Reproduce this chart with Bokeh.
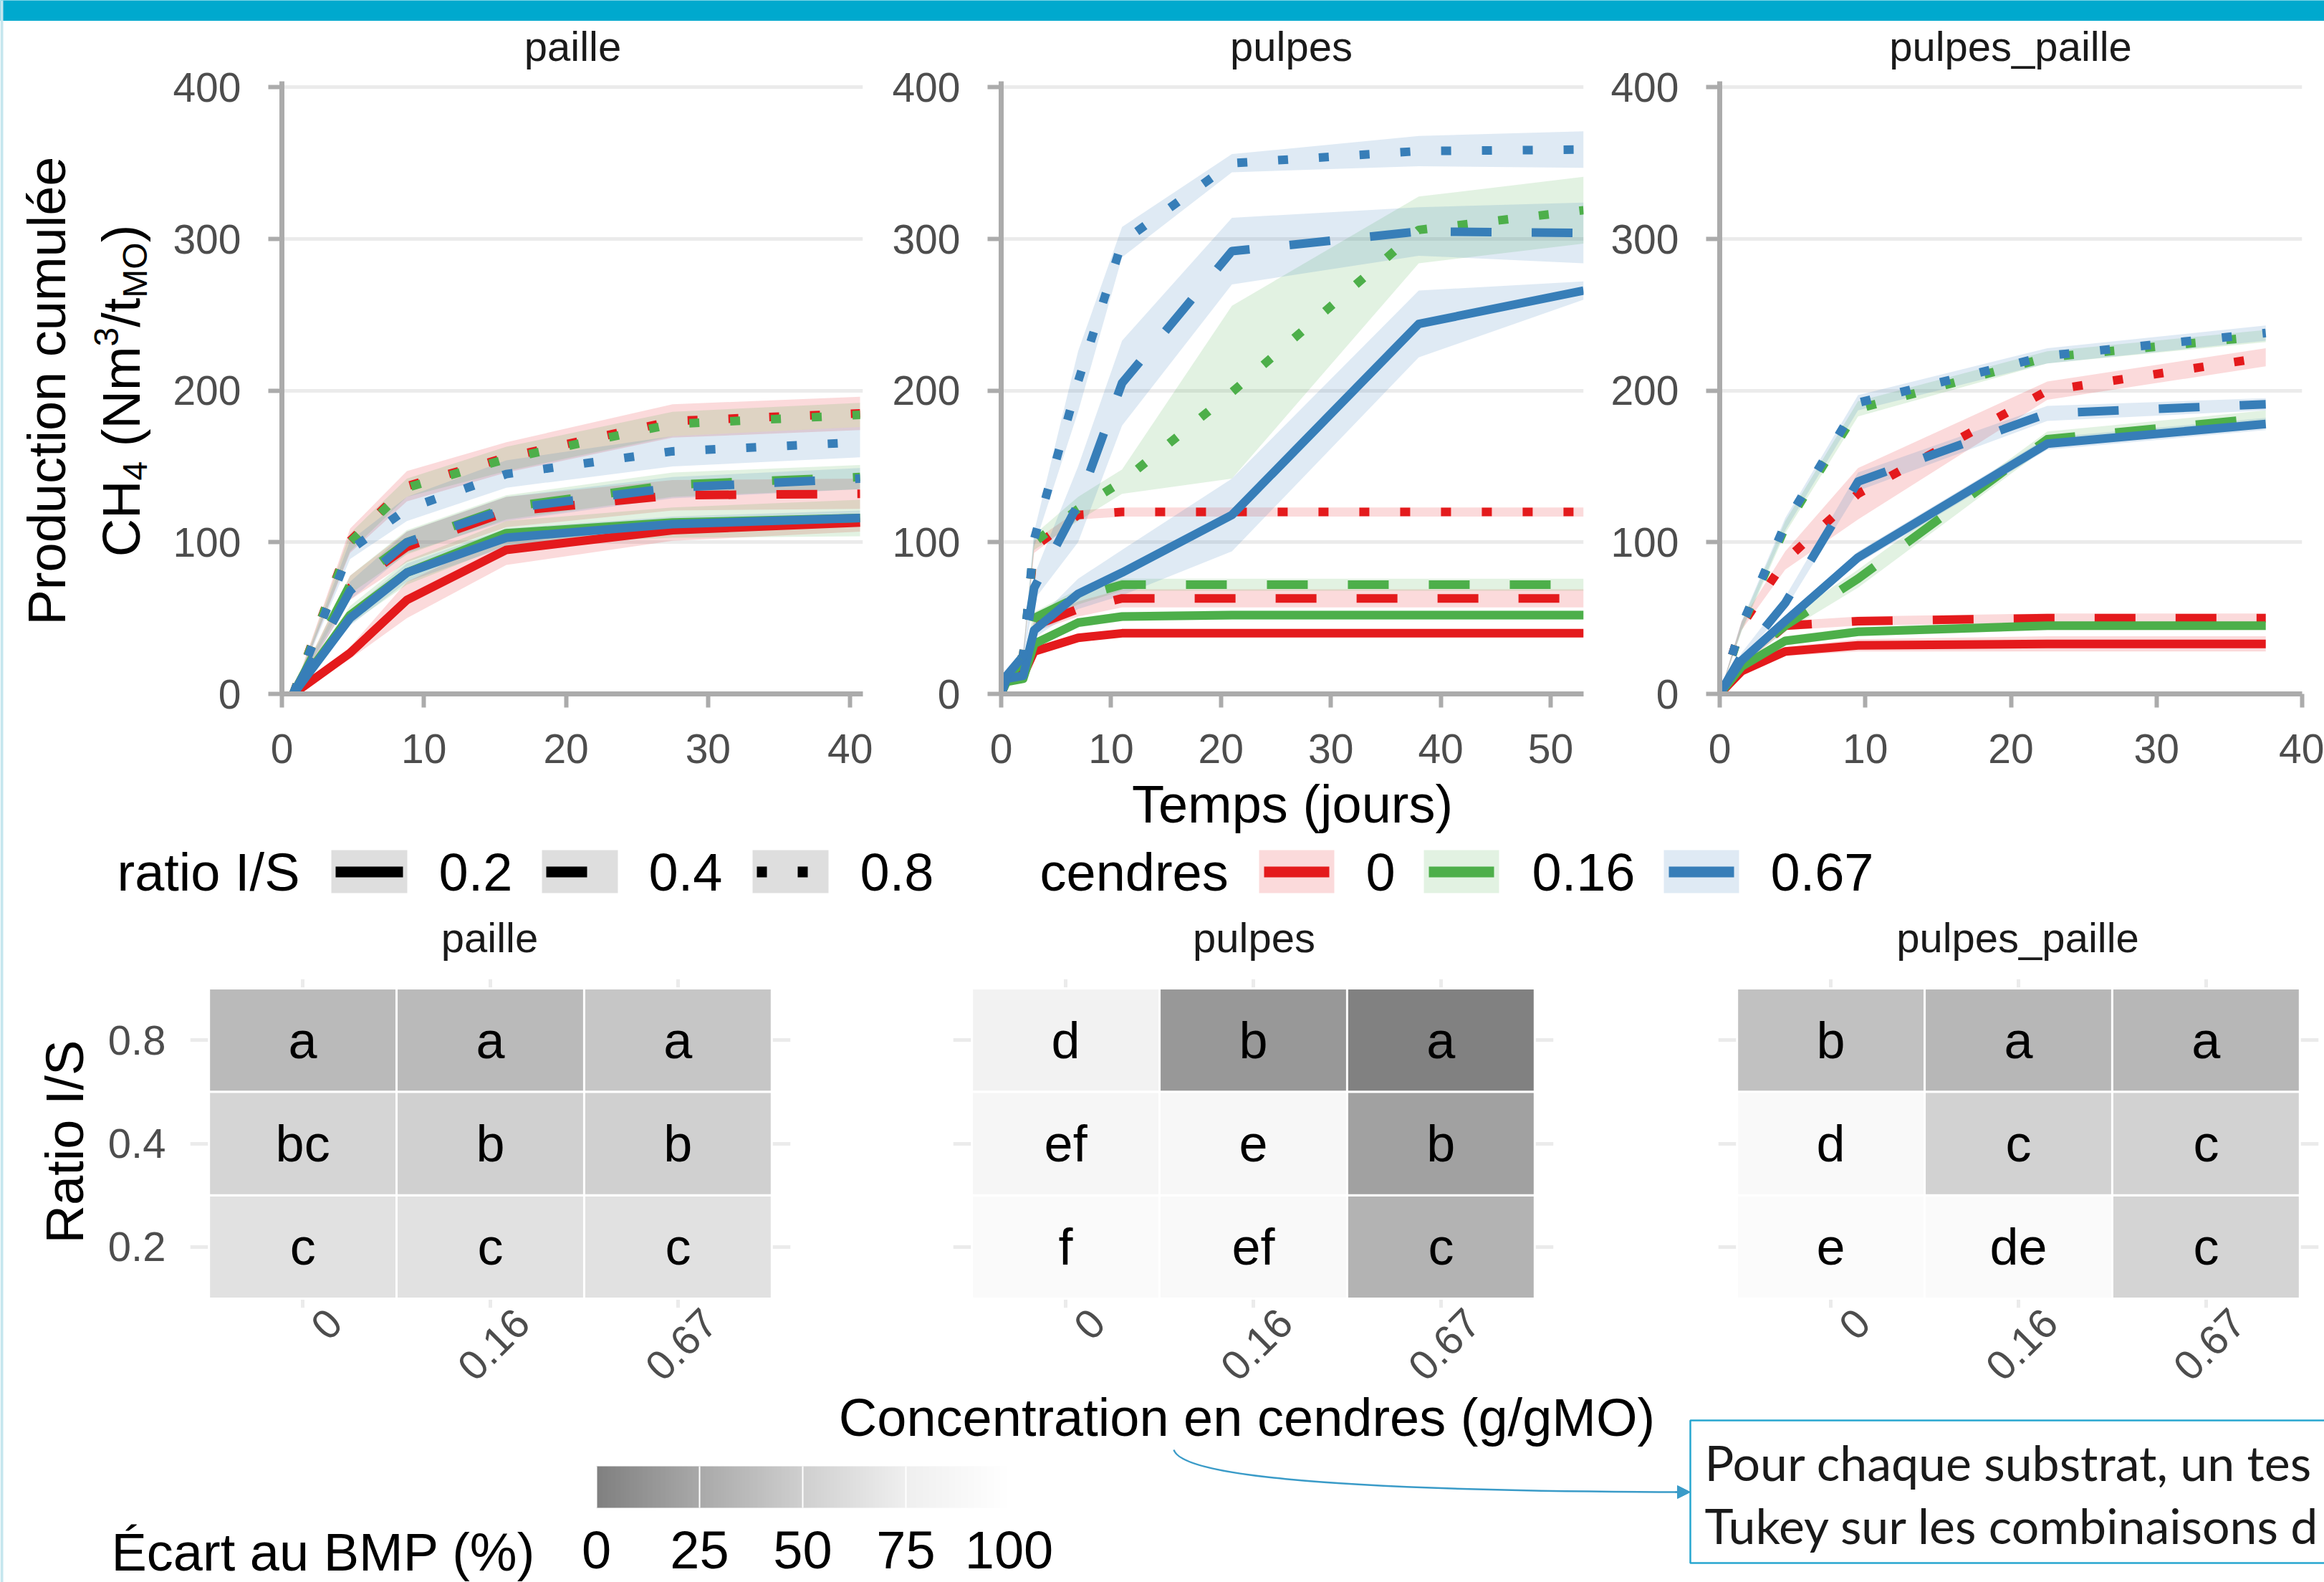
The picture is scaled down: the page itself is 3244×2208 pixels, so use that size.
import numpy as np
from bokeh.plotting import figure
from bokeh.models import (Range1d, FixedTicker, Label, ColumnDataSource, Spacer, GridBox,
                          LinearColorMapper, ColorBar, Arrow, NormalHead, LinearAxis)
from bokeh.layouts import row, column
from bokeh.embed import file_html
from bokeh.resources import INLINE
from bokeh.core.properties import value

# ---------------------------------------------------------------- data
substrats = ["paille", "pulpes", "pulpes_paille"]
ratio_levels = ["0.2", "0.4", "0.8"]
cendres_levels = ["0", "0.16", "0.67"]

# --- paille (days, mean cumulated CH4, sd)
paille_days = [0.8, 4.8, 8.8, 15.8, 27.5, 40.7]
PA_02_0 = [0, 27, 62, 95, 108, 113]
PA_02_0_sd = [1, 4, 12, 10, 7, 6]
PA_02_016 = [0, 52, 80, 106, 113, 116]
PA_02_016_sd = [1, 6, 8, 8, 10, 12]
PA_02_067 = [0, 50, 80, 103, 112, 116]
PA_02_067_sd = [1, 5, 6, 6, 5, 5]
PA_04_0 = [0, 70, 97, 120, 131, 132]
PA_04_0_sd = [1, 8, 10, 10, 10, 10]
PA_04_016 = [0, 72, 100, 123, 138, 143]
PA_04_016_sd = [1, 6, 8, 8, 8, 8]
PA_04_067 = [0, 68, 100, 122, 136, 142]
PA_04_067_sd = [1, 6, 7, 8, 7, 7]
PA_08_0 = [0, 101, 137, 156, 180, 185]
PA_08_0_sd = [1, 8, 10, 10, 11, 11]
PA_08_016 = [0, 100, 136, 155, 178, 184]
PA_08_016_sd = [1, 6, 6, 8, 8, 8]
PA_08_067 = [0, 95, 122, 145, 160, 166]
PA_08_067_sd = [1, 6, 8, 9, 10, 10]

# --- pulpes
pulpes_days = [0, 0.5, 2, 3, 7, 11, 21, 38, 53]
PU_02_0 = [0, 10, 12, 28, 37, 40, 40, 40, 40]
PU_02_0_sd = [0, 1, 1, 2, 2, 2, 2, 2, 2]
PU_02_016 = [0, 8, 10, 33, 47, 51, 52, 52, 52]
PU_02_016_sd = [0, 1, 1, 3, 3, 3, 3, 3, 3]
PU_02_067 = [0, 10, 12, 42, 66, 80, 118, 244, 266]
PU_02_067_sd = [0, 2, 2, 5, 10, 15, 24, 22, 6]
PU_04_0 = [0, 10, 20, 45, 56, 63, 63, 63, 63]
PU_04_0_sd = [0, 1, 2, 4, 5, 6, 6, 6, 6]
PU_04_016 = [0, 10, 22, 50, 64, 72, 72, 72, 72]
PU_04_016_sd = [0, 1, 2, 4, 5, 4, 4, 4, 4]
PU_04_067 = [0, 12, 25, 70, 125, 205, 292, 305, 304]
PU_04_067_sd = [0, 2, 3, 8, 25, 28, 22, 16, 20]
PU_08_0 = [0, 12, 25, 97, 118, 120, 120, 120, 120]
PU_08_0_sd = [0, 1, 2, 4, 3, 3, 3, 3, 3]
PU_08_016 = [0, 12, 25, 100, 122, 140, 199, 306, 319]
PU_08_016_sd = [0, 1, 2, 5, 8, 8, 57, 22, 22]
PU_08_067 = [0, 12, 25, 102, 206, 298, 350, 358, 359]
PU_08_067_sd = [0, 1, 2, 5, 20, 10, 6, 10, 12]

# --- pulpes_paille
pp_days = [0, 1.5, 4.5, 9.5, 22.5, 37.5]
PP_02_0 = [0, 15, 28, 32, 33, 33]
PP_02_0_sd = [0, 2, 3, 4, 5, 5]
PP_02_016 = [0, 18, 35, 41, 45, 45]
PP_02_016_sd = [0, 2, 3, 3, 3, 3]
PP_02_067 = [0, 22, 48, 90, 165, 178]
PP_02_067_sd = [0, 2, 3, 4, 4, 4]
PP_04_0 = [0, 20, 45, 48, 50, 50]
PP_04_0_sd = [0, 2, 3, 3, 3, 3]
PP_04_016 = [0, 22, 45, 76, 168, 182]
PP_04_016_sd = [0, 2, 4, 6, 5, 5]
PP_04_067 = [0, 25, 60, 140, 185, 191]
PP_04_067_sd = [0, 2, 4, 6, 5, 4]
PP_08_0 = [0, 45, 88, 132, 200, 222]
PP_08_0_sd = [0, 3, 6, 17, 6, 6]
PP_08_016 = [0, 44, 110, 188, 222, 236]
PP_08_016_sd = [0, 3, 4, 5, 4, 4]
PP_08_067 = [0, 45, 112, 192, 223, 238]
PP_08_067_sd = [0, 3, 4, 5, 5, 5]

# --- heatmaps: Ecart au BMP (%) rows = ratio 0.2, 0.4, 0.8 ; cols = cendres 0, 0.16, 0.67
paille_ecart = [[64, 64, 64], [55, 51, 51], [36, 36, 44]]
paille_letters = [["c", "c", "c"], ["bc", "b", "b"], ["a", "a", "a"]]
pulpes_ecart = [[92, 91, 32], [86, 88, 20], [80, 15, 1]]
pulpes_letters = [["f", "ef", "c"], ["ef", "e", "b"], ["d", "b", "a"]]
pp_ecart = [[94, 92, 54], [91, 52, 52], [41, 34, 34]]
pp_letters = [["e", "de", "c"], ["d", "c", "c"], ["b", "a", "a"]]

ecart_ticks = [0, 25, 50, 75, 100]

# ---------------------------------------------------------------- styles
FONT = "Liberation Sans"
COLS = ["#E41A1C", "#4DAF4A", "#377EB8"]
DASHES = ["solid", "57 56", "14 43"]
AXIS_GREY = "#ABABAB"
GRID = "#EBEBEB"
TICK_TXT = "#4D4D4D"
W, H = 3244, 2208

g = globals()


def series_for(prefix):
    out = {}
    for r in ratio_levels:
        for c in cendres_levels:
            key = prefix + "_" + r.replace(".", "") + "_" + c.replace(".", "")
            out[(r, c)] = (g[key], g[key + "_sd"])
    return out


def line_fig(w, bl, br, xmax, xticks, days, series, xlabel=None):
    p = figure(width=w, height=1156, x_range=Range1d(0, xmax), y_range=Range1d(0, 404),
               output_backend="svg", toolbar_location=None, tools="",
               min_border_left=bl, min_border_right=br, min_border_top=84,
               min_border_bottom=217)
    p.outline_line_color = None
    for ci, c in enumerate(cendres_levels):
        for ri, r in enumerate(ratio_levels):
            m, s = series[(r, c)]
            lo = [max(0, a - b) for a, b in zip(m, s)]
            hi = [a + b for a, b in zip(m, s)]
            p.varea(x=days, y1=lo, y2=hi, fill_color=COLS[ci], fill_alpha=0.16)
    for ci, c in enumerate(cendres_levels):
        for ri, r in enumerate(ratio_levels):
            m, s = series[(r, c)]
            p.line(x=days, y=m, line_color=COLS[ci], line_width=12,
                   line_dash=DASHES[ri], line_cap="butt", line_join="round")
    p.xaxis.ticker = FixedTicker(ticks=xticks)
    p.yaxis.ticker = FixedTicker(ticks=[0, 100, 200, 300, 400])
    for ax in p.axis:
        ax.axis_line_color = AXIS_GREY
        ax.axis_line_width = 7
        ax.major_tick_line_color = AXIS_GREY
        ax.major_tick_line_width = 6
        ax.major_tick_out = 19
        ax.major_tick_in = 0
        ax.minor_tick_line_color = None
        ax.major_label_text_font = FONT
        ax.major_label_text_font_size = "57px"
        ax.major_label_text_color = TICK_TXT
    p.yaxis.major_label_standoff = 38
    p.xaxis.major_label_standoff = 37
    p.xgrid.grid_line_color = None
    p.ygrid.ticker = FixedTicker(ticks=[100, 200, 300, 400])
    p.ygrid.grid_line_color = GRID
    p.ygrid.grid_line_width = 5
    if xlabel:
        p.xaxis.axis_label = xlabel
        p.xaxis.axis_label_text_font = FONT
        p.xaxis.axis_label_text_font_size = "74px"
        p.xaxis.axis_label_text_font_style = "normal"
        p.xaxis.axis_label_text_color = "black"
        p.xaxis.axis_label_standoff = 13
    return p


# colour scale (grey -> white)
stops_v = [0, 25, 50, 75, 100]
stops_g = [128, 169, 207, 239, 255]
levels = np.interp(np.linspace(0, 100, 256), stops_v, stops_g)
palette = ["#{0:02x}{0:02x}{0:02x}".format(int(round(v))) for v in levels]
mapper = LinearColorMapper(palette=palette, low=0, high=100)

LABEL_SHIFT = 0.17  # rotated tick labels sit centred a little right of their column


def heat_fig(w, bl, br, vals, letters, show_y):
    p = figure(width=w, height=938, x_range=Range1d(-0.6, 2.6), y_range=Range1d(-0.59, 2.59),
               output_backend="svg", toolbar_location=None, tools="",
               min_border_left=bl, min_border_right=br, min_border_top=96,
               min_border_bottom=383)
    p.outline_line_color = None
    xs, ys, vs, ts = [], [], [], []
    for ri, r in enumerate(ratio_levels):
        for ci, c in enumerate(cendres_levels):
            xs.append(ci); ys.append(ri); vs.append(vals[ri][ci]); ts.append(letters[ri][ci])
    src = ColumnDataSource(dict(x=xs, y=ys, v=vs, t=ts))
    p.rect("x", "y", width=1, height=1, source=src,
           fill_color={"field": "v", "transform": mapper},
           line_color="white", line_width=3)
    p.text("x", "y", text="t", source=src, text_align="center", text_baseline="middle",
           text_font=value(FONT), text_font_size="72px", text_color="black")
    p.yaxis.ticker = FixedTicker(ticks=[0, 1, 2])
    p.xgrid.ticker = FixedTicker(ticks=[0, 1, 2])
    p.ygrid.ticker = FixedTicker(ticks=[0, 1, 2])
    p.grid.grid_line_color = GRID
    p.grid.grid_line_width = 5
    p.xaxis.visible = False
    p.extra_x_ranges = {"lab": Range1d(-0.6 - LABEL_SHIFT, 2.6 - LABEL_SHIFT)}
    xa = LinearAxis(x_range_name="lab", ticker=FixedTicker(ticks=[0, 1, 2]))
    xa.major_label_overrides = {i: c for i, c in enumerate(cendres_levels)}
    xa.major_label_orientation = np.pi / 4
    xa.axis_line_color = None
    xa.major_tick_line_color = None
    xa.minor_tick_line_color = None
    xa.major_label_standoff = 5
    xa.major_label_text_font = FONT
    xa.major_label_text_font_size = "58px"
    xa.major_label_text_color = TICK_TXT
    p.add_layout(xa, "below")
    if show_y:
        ax = p.yaxis[0]
        ax.major_label_overrides = {i: r for i, r in enumerate(ratio_levels)}
        ax.axis_line_color = None
        ax.major_tick_line_color = None
        ax.minor_tick_line_color = None
        ax.major_label_standoff = 28
        ax.major_label_text_font = FONT
        ax.major_label_text_font_size = "58px"
        ax.major_label_text_color = TICK_TXT
    else:
        p.yaxis.visible = False
    return p


# ---------------------------------------------------------------- data panels
bar = figure(width=W, height=29, x_range=Range1d(0, 1), y_range=Range1d(0, 1),
             output_backend="svg", toolbar_location=None, tools="",
             x_axis_location=None, y_axis_location=None, min_border=0,
             background_fill_color="#00A9CE", border_fill_color="#00A9CE")
bar.outline_line_color = None
bar.grid.visible = False

f1 = line_fig(1015, 178, 26, 40.9, [0, 10, 20, 30, 40], paille_days, series_for("PA"))
f2 = line_fig(1010, 167, 30, 53.0, [0, 10, 20, 30, 40, 50], pulpes_days,
              series_for("PU"), xlabel="Temps (jours)")
f3 = line_fig(1004, 160, 31, 40.0, [0, 10, 20, 30, 40], pp_days, series_for("PP"))

h1 = heat_fig(1060, 125, 97, paille_ecart, paille_letters, True)
h2 = heat_fig(1060, 130, 92, pulpes_ecart, pulpes_letters, False)
h3 = heat_fig(984, 138, 8, pp_ecart, pp_letters, False)

main = column(
    bar,
    row(Spacer(width=215, height=1156), f1, f2, f3, spacing=0),
    Spacer(width=W, height=85),
    row(Spacer(width=140, height=938), h1, h2, h3, spacing=0),
    spacing=0,
)

# ---------------------------------------------------------------- overlay (texts, legends)
ov = figure(width=W, height=H, x_range=Range1d(0, W), y_range=Range1d(H, 0),
            output_backend="svg", toolbar_location=None, tools="",
            x_axis_location=None, y_axis_location=None, min_border=0,
            background_fill_alpha=0, border_fill_alpha=0)
ov.outline_line_color = None
ov.grid.visible = False

# thin slide border on the left edge
ov.quad(left=0, right=4, top=0, bottom=H, fill_color="#C5E6EE", line_color=None)


def lab(x, y, text, size=74, align="left", baseline="middle", angle=0,
        color="black", font=FONT):
    ov.add_layout(Label(x=x, y=y, text=text, text_font=font,
                        text_font_size=f"{size}px", text_align=align,
                        text_baseline=baseline, angle=angle, text_color=color))


# facet titles
for name, cx in zip(substrats, [799, 1802, 2806]):
    lab(cx, 64, name, size=58, align="center", color="#1A1A1A")
for name, cx in zip(substrats, [683, 1750, 2816]):
    lab(cx, 1308, name, size=58, align="center", color="#1A1A1A")

# y titles (rotated; sub/superscripts placed piece by piece)
lab(65, 545, "Production cumulée", align="center", angle=np.pi / 2)
pieces = [("CH", 74, 0), ("4", 48, 10), (" ", 74, None), ("(Nm", 74, 0), ("3", 48, -30),
          ("/t", 74, 0), ("MO", 48, 10), (")", 74, 0)]
widths = {"CH": 1.444, "4": 0.556, " ": 0.278, "(Nm": 1.888, "3": 0.556, "/t": 0.556,
          "MO": 1.611, ")": 0.333}
total = sum(widths[t] * s for t, s, _ in pieces)
pos = 545 + total / 2
for t, s, sh in pieces:
    wpx = widths[t] * s
    if sh is not None:
        lab(195 + sh - 0.3465 * s, pos - wpx / 2, t, size=s, align="center", angle=np.pi / 2)
    pos -= wpx
lab(90, 1593, "Ratio I/S", align="center", angle=np.pi / 2)

# legend row
lab(163, 1217, "ratio I/S")
ratio_keys = [462, 756, 1050]
ratio_txt = [612, 905, 1200]
for i, r in enumerate(ratio_levels):
    k = ratio_keys[i]
    ov.quad(left=k, right=k + 106, top=1186, bottom=1246, fill_color="black",
            fill_alpha=0.13, line_color=None)
    ov.line(x=[k + 6, k + 100], y=[1216.5, 1216.5], line_color="black", line_width=15,
            line_dash=DASHES[i], line_cap="butt")
    lab(ratio_txt[i], 1217, r)
lab(1451, 1217, "cendres")
cend_keys = [1757, 1987, 2322]
cend_txt = [1906, 2138, 2471]
for i, c in enumerate(cendres_levels):
    k = cend_keys[i]
    ov.quad(left=k, right=k + 105, top=1186, bottom=1246, fill_color=COLS[i],
            fill_alpha=0.16, line_color=None)
    ov.line(x=[k + 7, k + 98], y=[1216.5, 1216.5], line_color=COLS[i], line_width=15,
            line_cap="butt")
    lab(cend_txt[i], 1217, c)

# bottom: axis title, colour bar, note
lab(1740, 1978, "Concentration en cendres (g/gMO)", align="center")
lab(155, 2166, "Écart au BMP (%)")
cb = ColorBar(color_mapper=mapper, orientation="horizontal", width=576, height=58,
              location=(832, 17), ticker=FixedTicker(ticks=ecart_ticks),
              major_label_text_font=FONT, major_label_text_font_size="74px",
              major_label_text_color="black", major_tick_line_color="white",
              major_tick_line_width=2, major_tick_in=58, major_tick_out=0,
              minor_tick_line_color=None, label_standoff=33, padding=0, margin=0,
              background_fill_alpha=0, border_line_color=None, bar_line_color=None)
ov.add_layout(cb)
box_col = "#27A6D0"
ov.quad(left=2359, right=3320, top=1982, bottom=2181, fill_alpha=0, line_color=box_col,
        line_width=2.5)
lab(2379, 2040, "Pour chaque substrat, un tes", size=68, font="Lato", color="#1A1A1A")
lab(2379, 2128, "Tukey sur les combinaisons d", size=68, font="Lato", color="#1A1A1A")
arr_col = "#3A9BC8"
ov.bezier(x0=[1638], y0=[2023], x1=[2346], y1=[2082], cx0=[1648], cy0=[2055],
          cx1=[1808], cy1=[2080], line_color=arr_col, line_width=2.5)
ov.add_layout(Arrow(end=NormalHead(size=18, fill_color=arr_col, line_color=arr_col),
                    x_start=2338, y_start=2082, x_end=2359, y_end=2082,
                    line_color=arr_col, line_width=2.5))

layout = GridBox(children=[(main, 0, 0), (ov, 0, 0)])

open("out.html", "w").write(file_html(layout, INLINE))
